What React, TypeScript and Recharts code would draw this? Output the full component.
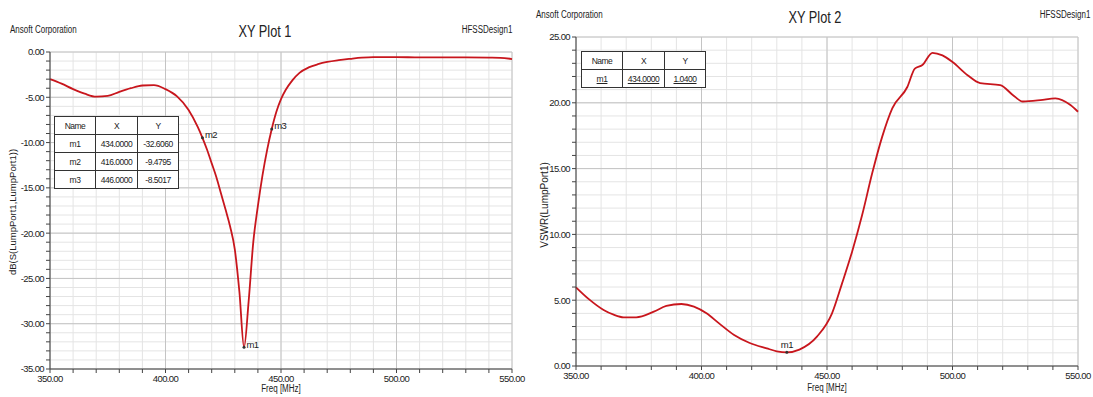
import React from "react";
import {
  LineChart,
  Line,
  XAxis,
  YAxis,
  CartesianGrid,
  ReferenceDot,
} from "recharts";

// XY Plot 1: dB(S(LumpPort1,LumpPort1)) vs freq
const s11Freq = [
  350, 355, 360, 365, 370, 375, 380, 385, 390, 395, 400, 405, 410, 414, 416, 418, 420,
  422, 424, 426, 428, 430, 432, 434, 436, 438, 440, 442, 444, 446, 448, 450, 452, 455,
  458, 462, 466, 470, 475, 480, 485, 490, 500, 510, 520, 530, 540, 545, 550,
];
const s11Db = [
  -3.0, -3.5, -4.1, -4.6, -4.93, -4.85, -4.4, -4.0, -3.7, -3.65, -4.1, -4.9, -6.4, -8.3,
  -9.48, -10.8, -12.3, -13.8, -15.6, -17.4, -19.3, -21.8, -26.5, -32.6, -27.5, -21.0,
  -17.0, -13.6, -10.8, -8.5, -6.6, -5.2, -4.2, -3.1, -2.3, -1.7, -1.35, -1.1, -0.9,
  -0.75, -0.62, -0.56, -0.56, -0.6, -0.6, -0.6, -0.62, -0.64, -0.78,
];

// XY Plot 2: VSWR(LumpPort1) vs freq
const vswrFreq = [
  350, 355, 361, 365, 369, 374, 381, 386, 392, 397, 402, 407, 413, 419, 426, 430, 434,
  439, 446, 452, 456, 460, 464, 468, 472, 476, 482, 485, 488, 492, 496, 500, 506, 511,
  519, 524, 528, 535, 541, 547, 550,
];
const vswr = [
  5.98, 5.1, 4.26, 3.9, 3.7, 3.7, 4.13, 4.56, 4.71, 4.51, 4.0, 3.24, 2.36, 1.77, 1.34,
  1.12, 1.04, 1.25, 2.23, 4.0, 6.28, 8.69, 11.47, 14.64, 17.43, 19.58, 21.2, 22.6, 22.87,
  23.8, 23.6, 23.1, 22.1, 21.5, 21.35, 20.6, 20.1, 20.2, 20.34, 19.83, 19.32,
];

const freqTicks = [350, 360, 370, 380, 390, 400, 410, 420, 430, 440, 450, 460, 470, 480, 490, 500, 510, 520, 530, 540, 550];
const freqMajor = [350, 400, 450, 500, 550];
const dbTicks = Array.from({ length: 36 }, (_, i) => -i);
const dbMajor = [0, -5, -10, -15, -20, -25, -30, -35];
const vswrTicks = Array.from({ length: 26 }, (_, i) => i);
const vswrMajor = [0, 5, 10, 15, 20, 25];

const s11Markers = [
  { name: "m1", x: 434, y: -32.606, xs: "434.0000", ys: "-32.6060" },
  { name: "m2", x: 416, y: -9.4795, xs: "416.0000", ys: "-9.4795" },
  { name: "m3", x: 446, y: -8.5017, xs: "446.0000", ys: "-8.5017" },
];
const vswrMarkers = [{ name: "m1", x: 434, y: 1.04, xs: "434.0000", ys: "1.0400" }];

const s11Data = s11Freq.map((f, i) => ({ f, v: s11Db[i] }));
const vswrData = vswrFreq.map((f, i) => ({ f, v: vswr[i] }));

const NARROW = "'Liberation Sans Narrow', 'Liberation Sans', Arial, sans-serif";
const SANS = "'Liberation Sans', Arial, sans-serif";
const RED = "#c8161d";

const fmtMajor = (major: number[]) => (v: number) =>
  major.includes(v) ? v.toFixed(2) : "";

function MarkerTable({ rows, left, top, underline }: any) {
  const cell: React.CSSProperties = {
    border: "1px solid #333",
    padding: 0,
    height: 17,
    textAlign: "center",
    fontFamily: NARROW,
    fontSize: 8.5,
    letterSpacing: -0.5,
    color: "#222",
    textDecoration: underline ? "underline" : "none",
  };
  const head = { ...cell, textDecoration: "none" };
  return (
    <table
      style={{
        position: "absolute",
        left,
        top,
        borderCollapse: "collapse",
        background: "#fff",
        border: "1.5px solid #333",
      }}
    >
      <tbody>
        <tr>
          <td style={{ ...head, width: 40 }}>Name</td>
          <td style={{ ...head, width: 41 }}>X</td>
          <td style={{ ...head, width: 40 }}>Y</td>
        </tr>
        {rows.map((r: any) => (
          <tr key={r.name}>
            <td style={cell}>{r.name}</td>
            <td style={cell}>{r.xs}</td>
            <td style={cell}>{r.ys}</td>
          </tr>
        ))}
      </tbody>
    </table>
  );
}

function Txt({ x, y, size, children, align = "left", font = NARROW, rotate, sx = 0.8 }: any) {
  const style: React.CSSProperties = {
    position: "absolute",
    top: y,
    fontFamily: font,
    fontSize: size,
    color: "#222",
    whiteSpace: "nowrap",
    lineHeight: 1,
  };
  if (rotate) {
    style.left = x;
    style.transform = "translate(-50%, -50%) rotate(-90deg)";
  } else if (align === "center") {
    style.left = x;
    style.transform = `translate(-50%, -50%) scaleX(${sx})`;
  } else if (align === "right") {
    style.right = 1093 - x;
    style.transformOrigin = "right center";
    style.transform = `translateY(-50%) scaleX(${sx})`;
  } else {
    style.left = x;
    style.transformOrigin = "left center";
    style.transform = `translateY(-50%) scaleX(${sx})`;
  }
  return <div style={style}>{children}</div>;
}

const tickStyle = { fontFamily: NARROW, fontSize: 9.5, fill: "#222", letterSpacing: -0.6 };

export default function App() {
  return (
    <div
      style={{
        position: "absolute",
        left: 0,
        top: 0,
        width: 1093,
        height: 397,
        background: "#fff",
        overflow: "hidden",
      }}
    >
      {/* plot 1 */}
      <div style={{ position: "absolute", left: 0, top: 0 }}>
        <LineChart width={530} height={397} data={s11Data} margin={{ top: 52, right: 18, bottom: 0, left: 0 }}>
          <CartesianGrid stroke="#e4e4e4" verticalValues={freqTicks} horizontalValues={dbTicks} />
          <CartesianGrid stroke="#c4c4c4" verticalValues={freqMajor} horizontalValues={dbMajor} />
          <XAxis
            dataKey="f"
            type="number"
            domain={[350, 550]}
            ticks={freqTicks}
            interval={0}
            tickFormatter={fmtMajor(freqMajor)}
            height={28}
            tickSize={4}
            stroke="#444"
            tick={tickStyle}
          />
          <XAxis xAxisId="top" orientation="top" type="number" domain={[350, 550]} height={0} tick={false} tickLine={false} stroke="#444" />
          <YAxis
            type="number"
            domain={[-35, 0]}
            ticks={dbTicks}
            interval={0}
            tickFormatter={fmtMajor(dbMajor)}
            width={50}
            tickSize={4}
            stroke="#444"
            tick={tickStyle}
          />
          <YAxis yAxisId="r" orientation="right" domain={[0, 1]} width={0} tick={false} tickLine={false} stroke="#444" />
          <Line type="monotone" dataKey="v" stroke={RED} strokeWidth={1.8} dot={false} isAnimationActive={false} />
          {s11Markers.map((m) => (
            <ReferenceDot
              key={m.name}
              x={m.x}
              y={m.y}
              r={1.5}
              fill="#333"
              stroke="none"
              label={{ value: m.name, position: "right", fontFamily: NARROW, fontSize: 9.5, letterSpacing: -0.6, fill: "#222", dx: -4, dy: -3 }}
            />
          ))}
        </LineChart>
      </div>

      {/* plot 2 */}
      <div style={{ position: "absolute", left: 530, top: 0 }}>
        <LineChart width={563} height={397} data={vswrData} margin={{ top: 37, right: 15, bottom: 0, left: 0 }}>
          <CartesianGrid stroke="#e4e4e4" verticalValues={freqTicks} horizontalValues={vswrTicks} />
          <CartesianGrid stroke="#c4c4c4" verticalValues={freqMajor} horizontalValues={vswrMajor} />
          <XAxis
            dataKey="f"
            type="number"
            domain={[350, 550]}
            ticks={freqTicks}
            interval={0}
            tickFormatter={fmtMajor(freqMajor)}
            height={31}
            tickSize={4}
            stroke="#444"
            tick={tickStyle}
          />
          <XAxis xAxisId="top" orientation="top" type="number" domain={[350, 550]} height={0} tick={false} tickLine={false} stroke="#777" />
          <YAxis
            type="number"
            domain={[0, 25]}
            ticks={vswrTicks}
            interval={0}
            tickFormatter={fmtMajor(vswrMajor)}
            width={46}
            tickSize={4}
            stroke="#444"
            tick={tickStyle}
          />
          <YAxis yAxisId="r" orientation="right" domain={[0, 1]} width={0} tick={false} tickLine={false} stroke="#777" />
          <Line type="monotone" dataKey="v" stroke={RED} strokeWidth={1.8} dot={false} isAnimationActive={false} />
          {vswrMarkers.map((m) => (
            <ReferenceDot
              key={m.name}
              x={m.x}
              y={m.y}
              r={1.5}
              fill="#333"
              stroke="none"
              label={{ value: m.name, position: "top", fontFamily: NARROW, fontSize: 9.5, letterSpacing: -0.6, fill: "#222", dy: 2 }}
            />
          ))}
        </LineChart>
      </div>

      {/* headers and axis titles */}
      <Txt x={10} y={30} size={10}>Ansoft Corporation</Txt>
      <Txt x={265} y={31} size={17} align="center" sx={0.75}>XY Plot 1</Txt>
      <Txt x={512} y={30} size={10} align="right">HFSSDesign1</Txt>
      <Txt x={13} y={212} size={9.5} font={SANS} rotate>dB(S(LumpPort1,LumpPort1))</Txt>
      <Txt x={281} y={389} size={10} align="center">Freq [MHz]</Txt>

      <Txt x={536} y={15} size={10}>Ansoft Corporation</Txt>
      <Txt x={815} y={17} size={17} align="center" sx={0.75}>XY Plot 2</Txt>
      <Txt x={1090} y={15} size={10} align="right">HFSSDesign1</Txt>
      <Txt x={545} y={205} size={10} font={SANS} rotate>VSWR(LumpPort1)</Txt>
      <Txt x={827} y={388} size={10} align="center">Freq [MHz]</Txt>

      <MarkerTable rows={s11Markers} left={54} top={116} />
      <MarkerTable rows={vswrMarkers} left={581} top={51} underline />
    </div>
  );
}
